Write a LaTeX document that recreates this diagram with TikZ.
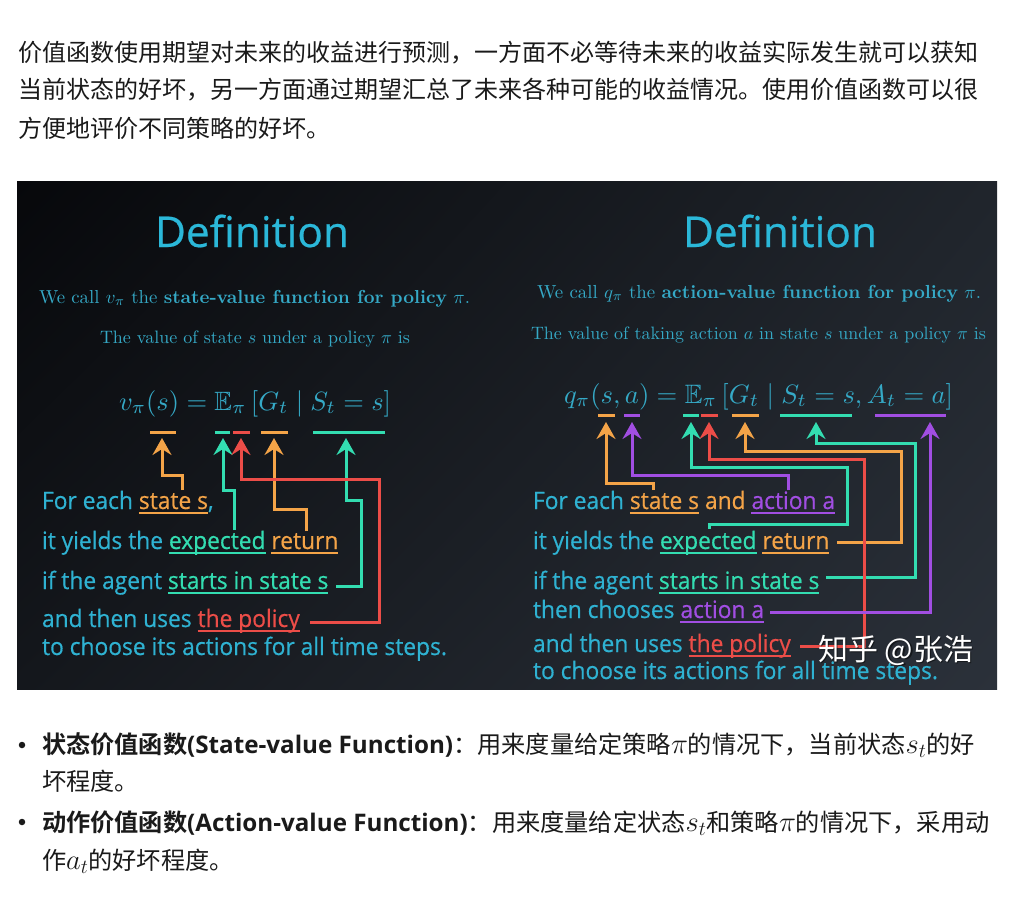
\documentclass[tikz,border=0pt]{standalone}
\usepackage{amssymb}
\usepackage{graphicx}
\usepackage{fontspec}
\usetikzlibrary{arrows.meta,shadings}
\newfontfamily\cjk{Noto Sans CJK SC}[BoldFont={Noto Sans CJK SC Bold}]
\newfontfamily\osans{Open Sans}
\newfontfamily\osansm{Open Sans}[FakeBold=0.5]
\newfontfamily\osansc{Open Sans}[FakeBold=0.5,FakeStretch=0.95]
\definecolor{txt}{HTML}{1A1A1A}
\definecolor{ttl}{HTML}{2BB8D9}
\definecolor{ser}{HTML}{35A9C6}
\definecolor{lbl}{HTML}{2FB2D2}
\definecolor{cor}{HTML}{F4A448}
\definecolor{cte}{HTML}{33DDB1}
\definecolor{cre}{HTML}{EC4D48}
\definecolor{cpu}{HTML}{A14EE2}
\definecolor{bgul}{HTML}{07080B}
\definecolor{bgur}{HTML}{20252C}
\definecolor{bgll}{HTML}{14171C}
\definecolor{bglr}{HTML}{2B313A}
\newcommand\ulw[2]{{\color{#1}\setbox2=\hbox{#2}\rlap{\rule[-0.2em]{\wd2}{0.09em}}\box2}}
\newcommand\mth[1]{\scalebox{1.15}{$#1$}}
\newlength\lblw
\begin{document}
\settowidth\lblw{\osansc\fontsize{10pt}{12pt}\selectfont to choose its actions for all time steps.}%
\pgfmathsetmacro\lsz{10*405/\lblw}%
\begin{tikzpicture}[x=1pt,y=-1pt,
  every node/.style={inner sep=0pt, outer sep=0pt},
  cjkline/.style={anchor=base west, text=txt, font=\cjk\fontsize{24pt}{30pt}\selectfont},
  bulline/.style={anchor=base west, text=txt, font=\cjk\fontsize{24.2pt}{30pt}\selectfont},
  titlenode/.style={anchor=base, text=ttl, font=\osansm},
  serline/.style={anchor=base west, text=ser},
  lab/.style={anchor=base west, text=lbl, font=\osansc\fontsize{\lsz pt}{\lsz pt}\selectfont},
  bar/.style={line width=3pt},
  arr/.style={line width=3pt, -{Stealth[length=17pt,width=19pt,inset=6pt]}},
  dot/.style={circle, fill=txt, minimum size=6.5pt}
]
\useasboundingbox (0,0) rectangle (1014,911);
\fill[white] (0,0) rectangle (1014,911);

% top paragraph
\node[cjkline] (p1) at (18,61.5) {价值函数使用期望对未来的收益进行预测，一方面不必等待未来的收益实际发生就可以获知};
\node[cjkline] (p2) at (18,98.5) {当前状态的好坏，另一方面通过期望汇总了未来各种可能的收益情况。使用价值函数可以很};
\node[cjkline] (p3) at (18,137) {方便地评价不同策略的好坏。};

% panel
\shade[upper left=bgul, upper right=bgur, lower left=bgll, lower right=bglr] (17,181) rectangle (997,689);

% titles
\node[titlenode] (t1) at (252,247) {\resizebox{194pt}{!}{Definition}};
\node[titlenode] (t2) at (780,247) {\resizebox{194pt}{!}{Definition}};

% serif lines
\node[serline] (s1) at (39,303) {\resizebox{431pt}{!}{We call $v_\pi$ the \textbf{state-value function for policy} $\pi$.}};
\node[serline] (s2) at (100,343) {\resizebox{310pt}{!}{The value of state $s$ under a policy $\pi$ is}};
\node[serline] (s3) at (537,298) {\resizebox{444pt}{!}{We call $q_\pi$ the \textbf{action-value function for policy} $\pi$.}};
\node[serline] (s4) at (531,339) {\resizebox{455pt}{!}{The value of taking action $a$ in state $s$ under a policy $\pi$ is}};

% equations
\node[serline] (e1) at (119,410) {\resizebox{272pt}{!}{$v_\pi(s) = \mathbb{E}_\pi\,[G_t \mid S_t = s]$}};
\node[serline] (e2) at (564,403) {\resizebox{389pt}{!}{$q_\pi(s,a) = \mathbb{E}_\pi\,[G_t \mid S_t = s, A_t = a]$}};

% equation bars left
\draw[bar,cor] (150,432) -- (176,432);
\draw[bar,cte] (215,432) -- (230,432);
\draw[bar,cre] (233,432) -- (250,432);
\draw[bar,cor] (261,432) -- (288,432);
\draw[bar,cte] (313,432) -- (385,432);
% equation bars right
\draw[bar,cor] (598,415) -- (615,415);
\draw[bar,cpu] (624,415) -- (640,415);
\draw[bar,cte] (683,415) -- (699,415);
\draw[bar,cre] (701,415) -- (718,415);
\draw[bar,cor] (732,415) -- (759,415);
\draw[bar,cte] (780,415) -- (852,415);
\draw[bar,cpu] (875,415) -- (946,415);

% left labels
\node[lab] (l1) at (42,509) {For each \ulw{cor}{state s},};
\node[lab] (l2) at (42,549) {it yields the \ulw{cte}{expected} \ulw{cor}{return}};
\node[lab] (l3) at (42,589) {if the agent \ulw{cte}{starts in state s}};
\node[lab] (l4) at (42,627) {and then uses \ulw{cre}{the policy}};
\node[lab] (l5) at (42,655) {to choose its actions for all time steps.};

% right labels
\node[lab] (r1) at (533,509) {For each \ulw{cor}{state s} {\color{cor}and} \ulw{cpu}{action a}};
\node[lab] (r2) at (533,549) {it yields the \ulw{cte}{expected} \ulw{cor}{return}};
\node[lab] (r3) at (533,589) {if the agent \ulw{cte}{starts in state s}};
\node[lab] (r4) at (533,618) {then chooses \ulw{cpu}{action a}};
\node[lab] (r5) at (533,652) {and then uses \ulw{cre}{the policy}};
\node[lab] (r6) at (533,679) {to choose its actions for all time steps.};

% left arrow coordinates
\coordinate (la1) at (182,490); \coordinate (lt1) at (162,438);
\coordinate (la2) at (234,530); \coordinate (lt2) at (223,438);
\coordinate (la3) at (310,622); \coordinate (lt3) at (241,438);
\coordinate (la4) at (306,531); \coordinate (lt4) at (274,438);
\coordinate (la5) at (336,586); \coordinate (lt5) at (346,438);
\draw[arr,cor] (la1) -- (182,475) -| (lt1);
\draw[arr,cte] (la2) -- (234,490) -| (lt2);
\draw[arr,cor] (la4) -- (306,509) -| (lt4);
\draw[arr,cte] (la5) -| (361,500) -| (lt5);
\draw[arr,cre] (la3) -| (379,479) -| (lt3);

% right arrow coordinates
\coordinate (ra1) at (653,490); \coordinate (rt1) at (606,422);
\coordinate (ra2) at (788,490); \coordinate (rt2) at (632,422);
\coordinate (ra3) at (709,529); \coordinate (rt3) at (691,422);
\coordinate (ra4) at (800,646); \coordinate (rt4) at (709,422);
\coordinate (ra5) at (837,542); \coordinate (rt5) at (745,422);
\coordinate (ra6) at (826,577); \coordinate (rt6) at (816,422);
\coordinate (ra7) at (770,612); \coordinate (rt7) at (930,422);
\draw[arr,cte] (ra6) -| (915,443) -| (rt6);
\draw[arr,cor] (ra5) -| (901,451) -| (rt5);
\draw[arr,cre] (ra4) -| (864,459) -| (rt4);
\draw[arr,cte] (ra3) -- (709,524) -| (847,467) -| (rt3);
\draw[arr,cpu] (ra2) -- (788,475) -| (rt2);
\draw[arr,cor] (ra1) -- (653,483) -| (rt1);
\draw[arr,cpu] (ra7) -| (rt7);

% watermark
\node[anchor=west, text=black, opacity=0.5, font=\cjk\fontsize{30pt}{32pt}\selectfont] (wms) at (819.5,651.5) {知乎 @张浩};
\node[anchor=west, text=white, font=\cjk\fontsize{30pt}{32pt}\selectfont] (wm) at (818,650) {知乎 @张浩};

% bullets
\node[dot] (b1) at (22,745) {};
\node[dot] (b2) at (22,822) {};
\node[bulline] (q1) at (42,753) {\textbf{状态价值函数{\osans\bfseries (State-value Function)}}：用来度量给定策略\mth{\pi}的情况下，当前状态\mth{s_t}的好};
\node[bulline] (q2) at (42,790) {坏程度。};
\node[bulline] (q3) at (42,831) {\textbf{动作价值函数{\osans\bfseries (Action-value Function)}}：用来度量给定状态\mth{s_t}和策略\mth{\pi}的情况下，采用动};
\node[bulline] (q4) at (42,869) {作\mth{a_t}的好坏程度。};
\end{tikzpicture}
\end{document}
